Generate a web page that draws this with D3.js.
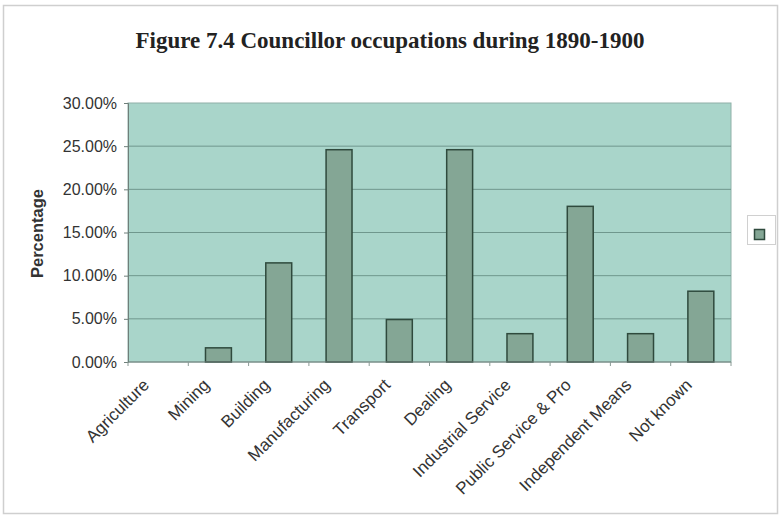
<!DOCTYPE html>
<html><head><meta charset="utf-8">
<script src="https://cdn.jsdelivr.net/npm/d3@7"></script>
<style>body{margin:0;background:#fff}</style>
</head><body><svg id="c" width="780" height="516"></svg>
<script>
const categories = ["Agriculture","Mining","Building","Manufacturing","Transport","Dealing","Industrial Service","Public Service & Pro","Independent Means","Not known"];
const values = [0, 0.0164, 0.1148, 0.2459, 0.0492, 0.2459, 0.0328, 0.1803, 0.0328, 0.0820];
const yTicks = [0, 0.05, 0.10, 0.15, 0.20, 0.25, 0.30];
const titleText = "Figure 7.4 Councillor occupations during 1890-1900";
const yTitleText = "Percentage";

const svg = d3.select("#c");
const L = 128, R = 731, T = 103, B = 362;

// outer frame
svg.append("rect").attr("x", 3.5).attr("y", 5.5).attr("width", 774).attr("height", 508)
  .attr("fill", "#fff").attr("stroke", "#cfcfcf").attr("stroke-width", 1.5);

const x = d3.scaleBand().domain(categories).range([L, R]).paddingInner(0.57).paddingOuter(0.285);
const y = d3.scaleLinear().domain([0, 0.30]).range([B, T]);

// plot area
svg.append("rect").attr("x", L).attr("y", T).attr("width", R - L).attr("height", B - T)
  .attr("fill", "#a9d5ca").attr("stroke", "#8fb0a8").attr("stroke-width", 1);

// gridlines
svg.append("g").selectAll("line").data(yTicks.filter(d => d > 0 && d < 0.30)).join("line")
  .attr("x1", L).attr("x2", R).attr("y1", d => y(d)).attr("y2", d => y(d))
  .attr("stroke", "#6f978d").attr("stroke-width", 1);

// y axis
const yAxis = d3.axisLeft(y).tickValues(yTicks).tickFormat(d3.format(".2%")).tickSize(4).tickPadding(7);
const gy = svg.append("g").attr("transform", `translate(${L},0)`).call(yAxis);
gy.select(".domain").attr("stroke", "#6f7f7a");
gy.selectAll(".tick line").attr("stroke", "#6f7f7a");
gy.selectAll("text").attr("font-family", "Liberation Sans, Arial, sans-serif").attr("font-size", 16).attr("fill", "#333");

// bars
svg.append("g").selectAll("rect").data(categories.map((c, i) => ({c, v: values[i]}))).join("rect")
  .attr("x", d => x(d.c)).attr("width", x.bandwidth())
  .attr("y", d => y(d.v)).attr("height", d => y(0) - y(d.v))
  .attr("fill", "#84a695").attr("stroke", "#2f4a3d").attr("stroke-width", 1.5);

// x axis line and boundary ticks
svg.append("line").attr("x1", L).attr("x2", R).attr("y1", B).attr("y2", B).attr("stroke", "#6f7f7a");
const step = x.step();
svg.append("g").selectAll("line").data(d3.range(categories.length + 1)).join("line")
  .attr("x1", i => L + i * step).attr("x2", i => L + i * step)
  .attr("y1", B).attr("y2", B + 4).attr("stroke", "#8a9a95");

// x labels
svg.append("g").selectAll("text").data(categories).join("text")
  .attr("transform", d => `translate(${x(d) + x.bandwidth() / 2 - 8},${B + 24}) rotate(-45)`)
  .attr("text-anchor", "end")
  .attr("font-family", "Liberation Sans, Arial, sans-serif").attr("font-size", 17).attr("fill", "#333")
  .text(d => d);

// y title
svg.append("text").attr("transform", `translate(43,${(T + B) / 2 + 1}) rotate(-90)`)
  .attr("text-anchor", "middle").attr("font-family", "Liberation Sans, Arial, sans-serif")
  .attr("font-size", 16.5).attr("font-weight", "bold").attr("fill", "#333").text(yTitleText);

// title
svg.append("text").attr("x", 390).attr("y", 48).attr("text-anchor", "middle")
  .attr("font-family", "Liberation Serif, Times New Roman, serif").attr("font-size", 23)
  .attr("font-weight", "bold").attr("fill", "#222").text(titleText);

// legend
svg.append("rect").attr("x", 747.5).attr("y", 215.5).attr("width", 28).attr("height", 29)
  .attr("fill", "#fff").attr("stroke", "#d0d0d0");
svg.append("rect").attr("x", 754.5).attr("y", 229.5).attr("width", 10).attr("height", 10)
  .attr("fill", "#84a695").attr("stroke", "#2f4a3d").attr("stroke-width", 1.5);
</script></body></html>
